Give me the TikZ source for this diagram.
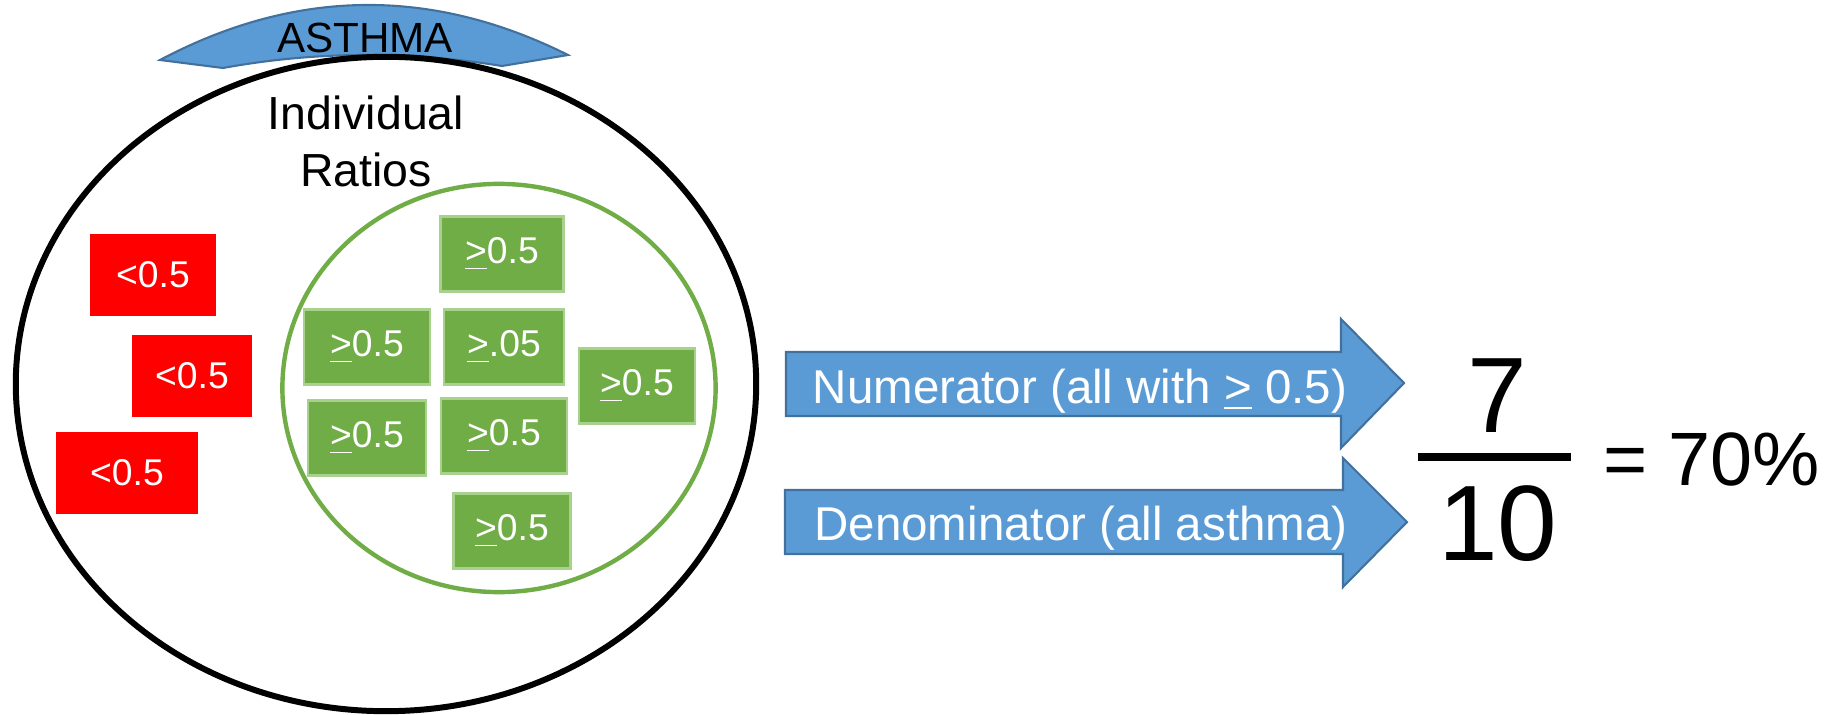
\documentclass[tikz,border=0pt]{standalone}
\usepackage{fontspec}
\setmainfont{Liberation Sans}
\usetikzlibrary{shapes.geometric}

\definecolor{lowred}{HTML}{FF0000}
\definecolor{okgreen}{HTML}{70AD47}
\definecolor{okgreenline}{HTML}{A9D18E}
\definecolor{ribbonblue}{HTML}{5B9BD5}
\definecolor{ribbonline}{HTML}{41719C}

% underlined ">" used as a "greater than or equal" sign
\newcommand\uge{\underline{>}}

\tikzset{
  ratiobox/.style={rectangle, inner sep=0pt, text=white,
    font=\fontsize{10.6}{12}\selectfont},
  redbox/.style={ratiobox, fill=lowred, minimum height=0.81cm},
  greenbox/.style={ratiobox, fill=okgreen, draw=okgreenline, line width=0.6pt,
    minimum height=0.75cm},
  bluearrow/.style={fill=ribbonblue, draw=ribbonline, line width=0.6pt, line join=miter},
  arrowtext/.style={text=white, inner sep=0pt, anchor=base,
    font=\fontsize{13.5}{16}\selectfont},
}

\begin{document}
\begin{tikzpicture}[x=0.01cm, y=-0.01cm]
\useasboundingbox (0,0) rectangle (1829,715);

% ribbon banner over the population
\draw[bluearrow] (160,60) .. controls (296,-12) and (432,-13) .. (568,55)
  -- (502,66) .. controls (409,51) and (316,51) .. (223,68) -- cycle;

% whole population and the sub-population meeting the target
\node[draw, ellipse, line width=1.7pt, inner sep=0pt,
      minimum width=7.40cm, minimum height=6.54cm] (all) at (386,384) {};
\node[draw=okgreen, ellipse, line width=1.25pt, inner sep=0pt,
      minimum width=4.33cm, minimum height=4.08cm] (good) at (499,388) {};

\node[anchor=base, inner sep=0pt, font=\fontsize{12}{14}\selectfont] (title) at (365,53) {ASTHMA};
\node[anchor=north, align=center, inner sep=0pt,
      font=\fontsize{13.2}{16.2}\selectfont] (sub) at (366,95) {Individual\\Ratios};

% ratios below the threshold
\node[redbox, minimum width=1.26cm] (r1) at (153,275) {<0.5};
\node[redbox, minimum width=1.20cm] (r2) at (192,376) {<0.5};
\node[redbox, minimum width=1.41cm] (r3) at (127,473) {<0.5};

% ratios at or above the threshold
\node[greenbox, minimum width=1.23cm] (g1) at (502,254) {\uge0.5};
\node[greenbox, minimum width=1.26cm] (g2) at (367,347) {\uge0.5};
\node[greenbox, minimum width=1.20cm] (g3) at (504,347) {\uge.05};
\node[greenbox, minimum width=1.16cm] (g4) at (637,386) {\uge0.5};
\node[greenbox, minimum width=1.18cm] (g5) at (367,438) {\uge0.5};
\node[greenbox, minimum width=1.26cm] (g6) at (504,436) {\uge0.5};
\node[greenbox, minimum width=1.17cm] (g7) at (512,531) {\uge0.5};

% block arrows feeding the fraction
\draw[bluearrow] (786,352) -- (1341,352) -- (1341,319) -- (1404,383)
  -- (1341,448) -- (1341,416) -- (786,416) -- cycle;
\node[arrowtext] (numlabel) at (1080,403) {Numerator (all with \uge{} 0.5)};

\draw[bluearrow] (785,490) -- (1343,490) -- (1343,458) -- (1407,522)
  -- (1343,587) -- (1343,554) -- (785,554) -- cycle;
\node[arrowtext] (denlabel) at (1081,540) {Denominator (all asthma)};

% the resulting fraction
\node[anchor=base, inner sep=0pt, font=\fontsize{30.5}{34}\selectfont] (num) at (1497,432) {7};
\node[anchor=base, inner sep=0pt, font=\fontsize{30.5}{34}\selectfont] (den) at (1498,560) {10};
\coordinate (barl) at (1418,457);
\coordinate (barr) at (1571,457);
\draw[line width=2.3pt] (barl) -- (barr);
\node[anchor=base west, inner sep=0pt, font=\fontsize{21.5}{25}\selectfont] (result) at (1603,485) {= 70\%};
\end{tikzpicture}
\end{document}
